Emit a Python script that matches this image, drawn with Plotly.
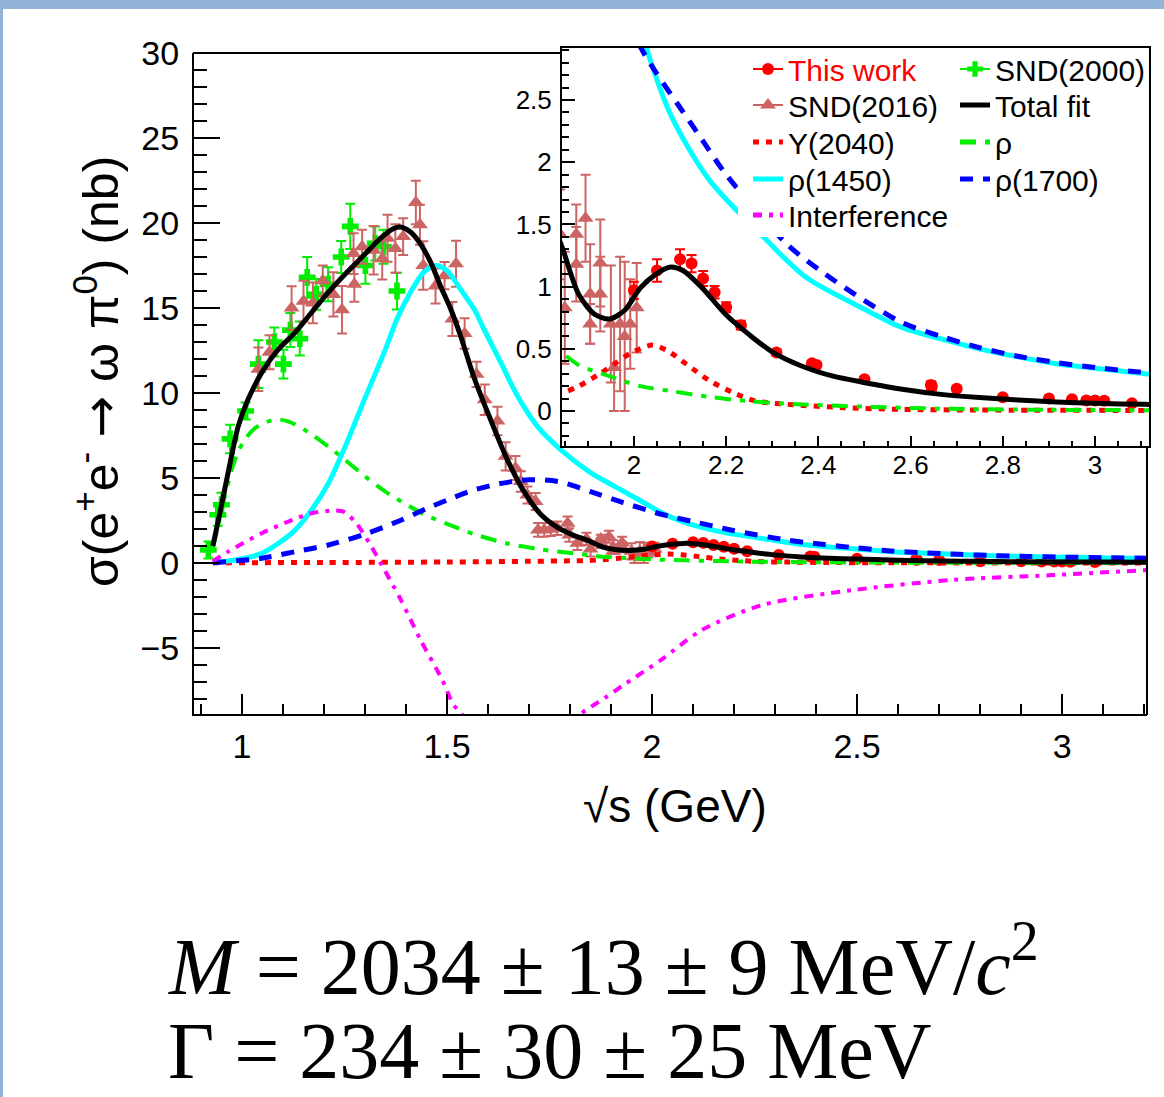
import plotly.graph_objects as go

W, H = 1164, 1097

# ---------------- data ----------------
# SND(2000)
snd2000_x = [0.918, 0.941, 0.950, 0.971, 1.009, 1.040, 1.079, 1.101, 1.118, 1.141, 1.159, 1.181, 1.210, 1.242, 1.264, 1.301, 1.325, 1.345, 1.378]
snd2000_y = [0.77, 2.84, 3.43, 7.3, 8.94, 11.7, 13.0, 11.7, 13.7, 13.2, 16.8, 15.8, 16.4, 18.0, 19.8, 17.5, 18.8, 18.6, 16.0]
snd2000_err = [0.5, 0.65, 0.7, 0.84, 0.5, 1.4, 0.85, 0.85, 1.0, 1.0, 1.2, 0.9, 1.0, 0.94, 1.33, 1.08, 1.0, 1.0, 1.08]

# SND(2016)
snd2016_x = [1.040, 1.067, 1.121, 1.150, 1.173, 1.197, 1.223, 1.244, 1.272, 1.274,
             1.293, 1.321, 1.342, 1.355, 1.374, 1.393, 1.424, 1.434, 1.442, 1.472,
             1.494, 1.513, 1.522, 1.543, 1.572, 1.592, 1.623, 1.643, 1.667, 1.680,
             1.696, 1.716, 1.722, 1.737, 1.753, 1.769, 1.794, 1.798, 1.818, 1.840,
             1.850, 1.875, 1.875, 1.895, 1.905, 1.905, 1.927, 1.927, 1.950, 1.957,
             1.970, 1.980, 1.992, 2.006]
snd2016_y = [11.4, 12.4, 15.0, 15.4, 15.3, 16.6, 15.8, 14.9, 18.2, 16.4,
             18.6, 18.4, 17.9, 19.1, 18.5, 19.2, 21.2, 19.9, 17.5, 16.3,
             16.9, 14.35, 17.6, 13.5, 11.1, 9.6, 8.35, 6.28, 5.59, 4.80,
             4.0, 3.62, 1.95, 1.95, 1.99, 2.05, 2.34, 1.65, 1.16, 1.42,
             0.83, 1.42, 1.18, 1.55, 0.94, 0.70, 1.19, 0.94, 0.70, 0.35,
             0.70, 0.60, 0.70, 0.83]
snd2016_err = [1.28, 1.0, 1.28, 1.2, 1.2, 0.9, 1.3, 1.4, 1.2, 1.03,
               1.0, 1.43, 1.23, 1.38, 1.43, 1.08, 1.28, 1.18, 1.43, 1.03,
               0.8, 1.0, 1.35, 0.9, 0.74, 0.9, 0.84, 0.83, 0.7, 0.6,
               0.5, 0.5, 0.4, 0.4, 0.4, 0.4, 0.4, 0.4, 0.4, 0.36,
               0.45, 0.24, 0.3, 0.35, 0.4, 0.16, 0.35, 0.3, 0.47, 0.35,
               0.54, 0.6, 0.36, 0.36]

# This work
bes_x = [2.0, 2.05, 2.1, 2.125, 2.15, 2.175, 2.2, 2.232, 2.309, 2.386, 2.396,
         2.5, 2.644, 2.646, 2.7, 2.8, 2.9, 2.95, 2.981, 3.0, 3.02, 3.08]
bes_y = [0.97, 1.13, 1.22, 1.185, 1.065, 0.955, 0.835, 0.69, 0.47, 0.385, 0.37,
         0.255, 0.21, 0.20, 0.18, 0.11, 0.10, 0.095, 0.085, 0.085, 0.082, 0.062]
bes_err = [0.07, 0.09, 0.08, 0.07, 0.06, 0.05, 0.04, 0.035, 0.025, 0.02, 0.02,
           0.02, 0.03, 0.03, 0.02, 0.015, 0.015, 0.015, 0.015, 0.015, 0.015, 0.015]

# Total fit
total_x = [0.929, 0.946, 0.966, 0.991, 1.015, 1.048, 1.089, 1.13, 1.17, 1.211,
           1.256, 1.297, 1.337, 1.37, 1.386, 1.411, 1.435, 1.46, 1.484, 1.509,
           1.533, 1.566, 1.606, 1.647, 1.688, 1.729, 1.769, 1.81, 1.843, 1.88,
           1.914, 1.947, 1.98, 2.014, 2.048, 2.077, 2.106, 2.148, 2.198, 2.248,
           2.298, 2.365, 2.432, 2.499, 2.582, 2.666, 2.749, 2.833, 2.916, 3.0,
           3.108, 3.21]
total_y = [1.0, 2.93, 5.3, 8.05, 9.63, 11.2, 12.58, 13.57, 14.75, 15.93,
           17.1, 18.1, 19.08, 19.67, 19.77, 19.47, 18.78, 17.7, 16.3, 14.94,
           13.37, 10.9, 8.45, 6.08, 4.2, 2.85, 2.1, 1.62, 1.33, 0.94,
           0.78, 0.74, 0.81, 0.99, 1.10, 1.156, 1.13, 0.99, 0.78, 0.62,
           0.48, 0.36, 0.28, 0.23, 0.175, 0.134, 0.108, 0.089, 0.073, 0.062,
           0.054, 0.048]

# Y(2040)
y2040_x = [0.929, 1.2, 1.5, 1.7, 1.8, 1.847, 1.88, 1.926, 1.962, 1.995, 2.04,
           2.073, 2.114, 2.165, 2.215, 2.265, 2.332, 2.457, 2.582, 2.749, 3.21]
y2040_y = [0.02, 0.03, 0.06, 0.1, 0.13, 0.15, 0.20, 0.30, 0.39, 0.47, 0.53,
           0.484, 0.376, 0.242, 0.148, 0.08, 0.054, 0.027, 0.013, 0.008, 0.004]

# rho
rho_x = [0.929, 0.946, 0.96, 0.975, 0.99, 1.007, 1.03, 1.06, 1.085, 1.11, 1.13,
         1.17, 1.22, 1.25, 1.3, 1.35, 1.4, 1.45, 1.5, 1.566, 1.647, 1.729, 1.81,
         1.847, 1.88, 1.947, 2.014, 2.081, 2.165, 2.248, 2.332, 2.499, 2.666,
         2.9, 3.21]
rho_y = [0.9, 2.6, 4.1, 5.5, 6.5, 7.27, 7.9, 8.3, 8.45, 8.35, 8.15,
         7.56, 6.67, 6.1, 5.1, 4.2, 3.45, 2.8, 2.3, 1.7, 1.15, 0.8, 0.57,
         0.46, 0.37, 0.28, 0.20, 0.16, 0.113, 0.08, 0.059, 0.035, 0.019,
         0.01, 0.006]

# rho(1450)
rho1450_x = [0.929, 0.983, 1.048, 1.089, 1.13, 1.17, 1.211, 1.252, 1.3, 1.35,
             1.378, 1.411, 1.443, 1.472, 1.5, 1.533, 1.566, 1.59, 1.631, 1.672,
             1.72, 1.777, 1.851, 1.924, 1.973, 2.02, 2.081, 2.165, 2.286, 2.373,
             2.499, 2.582, 2.666, 2.749, 2.833, 2.916, 3.0, 3.108, 3.21]
rho1450_y = [0.03, 0.18, 0.57, 1.16, 1.95, 3.13, 4.7, 6.87, 9.7, 12.58,
             14.35, 15.93, 17.1, 17.5, 17.2, 16.1, 14.94, 13.76, 11.8, 9.82,
             8.05, 6.67, 5.3, 4.31, 3.65, 3.0, 2.37, 1.85, 1.38, 1.075,
             0.82, 0.67, 0.58, 0.50, 0.435, 0.38, 0.344, 0.30, 0.27]

# rho(1700)
rho1700_x = [0.929, 1.048, 1.13, 1.211, 1.3, 1.386, 1.45, 1.5, 1.566, 1.625,
             1.7, 1.77, 1.85, 1.93, 2.018, 2.048, 2.098, 2.148, 2.198, 2.332,
             2.415, 2.499, 2.582, 2.666, 2.749, 2.833, 2.916, 3.0, 3.108, 3.21]
rho1700_y = [0.02, 0.28, 0.67, 1.06, 1.7, 2.5, 3.2, 3.7, 4.3, 4.65,
             4.9, 4.8, 4.2, 3.55, 2.90, 2.72, 2.45, 2.18, 1.91, 1.34,
             1.10, 0.89, 0.71, 0.60, 0.51, 0.44, 0.39, 0.35, 0.31, 0.28]

# Interference
interf_x = [0.929, 0.966, 1.048, 1.113, 1.17, 1.227, 1.25, 1.28, 1.31, 1.337,
            1.386, 1.435, 1.489, 1.515, 1.535, 1.6, 1.7, 1.77, 1.827, 1.883,
            1.932, 2.022, 2.12, 2.267, 2.487, 2.73, 2.976, 3.21]
interf_y = [0.1, 0.67, 1.75, 2.44, 2.93, 3.09, 3.0, 2.3, 1.2, 0.05,
            -2.1, -4.5, -6.9, -8.3, -8.86, -10.5, -11.3, -10.3, -8.86, -7.97,
            -7.15, -5.7, -3.96, -2.48, -1.6, -1.0, -0.71, -0.41]

# legend labels (two columns, row by row)
legend_left = ["This work", "SND(2016)", "Y(2040)", "ρ(1450)", "Interference"]
legend_right = ["SND(2000)", "Total fit", "ρ", "ρ(1700)"]

FONT = "Liberation Sans"
BROWN = "#CD6464"
GREEN = "#00EE00"
CYAN = "#00FFFF"
BLUE = "#0000FF"
MAGENTA = "#FF00FF"

DASH_DOT = "6px,7px"
DASH_RHO = "16px,9px,5px,9px"
DASH_1700 = "13px,10px"
DASH_INT = "9px,7px,4px,7px"

fig = go.Figure()
axes_pairs = [("x", "y"), ("x2", "y2")]

# data points
for xa, ya in axes_pairs:
    fig.add_trace(go.Scatter(
        x=snd2000_x, y=snd2000_y, xaxis=xa, yaxis=ya, mode="markers", showlegend=False,
        marker=dict(symbol="cross", size=14, color=GREEN),
        error_y=dict(type="data", array=snd2000_err, color=GREEN, thickness=2, width=5)))
    fig.add_trace(go.Scatter(
        x=snd2016_x, y=snd2016_y, xaxis=xa, yaxis=ya, mode="markers", showlegend=False,
        marker=dict(symbol="triangle-up", size=14, color=BROWN),
        error_y=dict(type="data", array=snd2016_err, color=BROWN, thickness=2, width=5)))
    fig.add_trace(go.Scatter(
        x=bes_x, y=bes_y, xaxis=xa, yaxis=ya, mode="markers", showlegend=False,
        marker=dict(symbol="circle", size=12, color="red"),
        error_y=dict(type="data", array=bes_err, color="red", thickness=2, width=5)))

curves = [
    (y2040_x, y2040_y, dict(color="red", width=5, dash=DASH_DOT)),
    (rho_x, rho_y, dict(color=GREEN, width=4, dash=DASH_RHO)),
    (rho1450_x, rho1450_y, dict(color=CYAN, width=5)),
    (rho1700_x, rho1700_y, dict(color=BLUE, width=5, dash=DASH_1700)),
    (interf_x, interf_y, dict(color=MAGENTA, width=4, dash=DASH_INT)),
    (total_x, total_y, dict(color="black", width=5)),
]
for xa, ya in axes_pairs:
    for cx, cy, ln in curves:
        fig.add_trace(go.Scatter(x=cx, y=cy, xaxis=xa, yaxis=ya, mode="lines",
                                 line=dict(shape="spline", smoothing=0.8, **ln),
                                 showlegend=False))

# legend entries: one single-item legend per cell so rows/columns sit where the reference has them
legend_styles = {
    "This work": dict(mode="lines+markers", line=dict(color="red", width=2),
                      marker=dict(symbol="circle", size=12, color="red")),
    "SND(2016)": dict(mode="lines+markers", line=dict(color=BROWN, width=2),
                      marker=dict(symbol="triangle-up", size=14, color=BROWN)),
    "Y(2040)": dict(mode="lines", line=dict(color="red", width=5, dash=DASH_DOT)),
    "ρ(1450)": dict(mode="lines", line=dict(color=CYAN, width=5)),
    "Interference": dict(mode="lines", line=dict(color=MAGENTA, width=5, dash=DASH_INT)),
    "SND(2000)": dict(mode="lines+markers", line=dict(color=GREEN, width=2),
                      marker=dict(symbol="cross", size=13, color=GREEN)),
    "Total fit": dict(mode="lines", line=dict(color="black", width=5)),
    "ρ": dict(mode="lines", line=dict(color=GREEN, width=5, dash=DASH_RHO)),
    "ρ(1700)": dict(mode="lines", line=dict(color=BLUE, width=5, dash=DASH_1700)),
}
row_centers = [69, 105, 142, 179, 215]
legend_layout = {}
k = 0
for col, (labels, left_px) in enumerate([(legend_left, 748), (legend_right, 955)]):
    for r, lab in enumerate(labels):
        k += 1
        lid = "legend" if k == 1 else f"legend{k}"
        shown = f"<span style='color:red'>{lab}</span>" if lab == "This work" else lab
        fig.add_trace(go.Scatter(x=[None], y=[None], xaxis="x2", yaxis="y2", name=shown,
                                 legend=lid, showlegend=True, **legend_styles[lab]))
        legend_layout[lid] = dict(x=left_px / W, y=1 - (row_centers[r] - 26) / H,
                                  xanchor="left", yanchor="top",
                                  bgcolor="rgba(0,0,0,0)", borderwidth=0,
                                  font=dict(family=FONT, size=30, color="black"),
                                  itemwidth=30)

tickfont_main = dict(family=FONT, size=34, color="black")
tickfont_inset = dict(family=FONT, size=26, color="black")

fig.update_layout(
    width=W, height=H,
    margin=dict(l=0, r=0, t=0, b=0, autoexpand=False),
    paper_bgcolor="white", plot_bgcolor="white",
    hovermode=False,
    xaxis=dict(domain=[194 / W, 1147 / W], range=[0.883, 3.207], anchor="y",
               automargin=False,
               showline=True, linecolor="black", linewidth=2, mirror=False,
               ticks="inside", ticklen=20, tickwidth=2, tickcolor="black",
               tick0=1, dtick=0.5, showgrid=False, zeroline=False,
               minor=dict(ticks="inside", ticklen=10, tickwidth=2, tickcolor="black",
                          tick0=0.9, dtick=0.1, showgrid=False),
               tickfont=tickfont_main, ticklabelstandoff=1),
    yaxis=dict(domain=[1 - 714 / H, 1 - 53 / H], range=[-8.88, 30], anchor="x",
               automargin=False,
               showline=True, linecolor="black", linewidth=2, mirror=False,
               ticks="inside", ticklen=26, tickwidth=2, tickcolor="black",
               tick0=0, dtick=5, showgrid=False, zeroline=False,
               minor=dict(ticks="inside", ticklen=13, tickwidth=2, tickcolor="black",
                          dtick=1, showgrid=False),
               tickfont=tickfont_main, ticklabelstandoff=6),
    xaxis2=dict(domain=[562 / W, 1149 / W], range=[1.844, 3.117], anchor="y2",
                automargin=False,
                showline=True, linecolor="black", linewidth=2, mirror=True,
                ticks="inside", ticklen=10, tickwidth=2, tickcolor="black",
                tick0=2, dtick=0.2, showgrid=False, zeroline=False,
                minor=dict(ticks="inside", ticklen=5, tickwidth=2, tickcolor="black",
                           dtick=0.05, showgrid=False),
                tickfont=tickfont_inset, ticklabelstandoff=-5),
    yaxis2=dict(domain=[1 - 446 / H, 1 - 48 / H], range=[-0.281, 2.918], anchor="x2",
                automargin=False,
                showline=True, linecolor="black", linewidth=2, mirror=True,
                ticks="inside", ticklen=13, tickwidth=2, tickcolor="black",
                tick0=0, dtick=0.5, showgrid=False, zeroline=False,
                minor=dict(ticks="inside", ticklen=7, tickwidth=2, tickcolor="black",
                           dtick=0.1, showgrid=False),
                tickfont=tickfont_inset, ticklabelstandoff=3),
    shapes=[
        # slide frame
        dict(type="rect", xref="paper", yref="paper", x0=0, x1=1, y0=1 - 9 / H, y1=1,
             fillcolor="#93B4D9", line=dict(width=0), layer="above"),
        dict(type="rect", xref="paper", yref="paper", x0=0, x1=3 / W, y0=0, y1=1,
             fillcolor="#93B4D9", line=dict(width=0), layer="above"),
        # main frame top / right (hidden behind the inset elsewhere)
        dict(type="line", xref="paper", yref="paper", x0=193 / W, x1=562 / W,
             y0=1 - 53 / H, y1=1 - 53 / H, line=dict(color="black", width=2), layer="above"),
        dict(type="line", xref="paper", yref="paper", x0=1147 / W, x1=1147 / W,
             y0=1 - 446 / H, y1=1 - 715 / H, line=dict(color="black", width=2), layer="above"),
        # opaque legend box inside the inset
        dict(type="rect", xref="paper", yref="paper", x0=738 / W, x1=1146 / W,
             y0=1 - 237 / H, y1=1 - 50 / H, fillcolor="white", line=dict(width=0),
             layer="above"),
    ],
    annotations=[
        dict(xref="paper", yref="paper", x=98 / W, y=1 - 372 / H, textangle=-90,
             xanchor="center", yanchor="middle", showarrow=False,
             text="σ(e<sup>+</sup>e<sup>-</sup> <span style='font-family:DejaVu Sans'>→</span> ω π<sup>0</sup>) (nb)",
             font=dict(family=FONT, size=50, color="black")),
        dict(xref="paper", yref="paper", x=675 / W, y=1 - 806 / H,
             xanchor="center", yanchor="middle", showarrow=False,
             text="√s (GeV)", font=dict(family=FONT, size=46, color="black")),
        dict(xref="paper", yref="paper", x=166 / W, y=1 - 960 / H,
             xanchor="left", yanchor="middle", showarrow=False,
             text="<i>M</i> = 2034 ± 13 ± 9 MeV/<i>c</i><sup>2</sup>",
             font=dict(family="Liberation Serif", size=80, color="black")),
        dict(xref="paper", yref="paper", x=166 / W, y=0,
             xanchor="left", yanchor="bottom", showarrow=False,
             text="Γ = 234 ± 30 ± 25 MeV",
             font=dict(family="Liberation Serif", size=80, color="black")),
    ],
    **legend_layout,
)

fig.write_html("out.html")
